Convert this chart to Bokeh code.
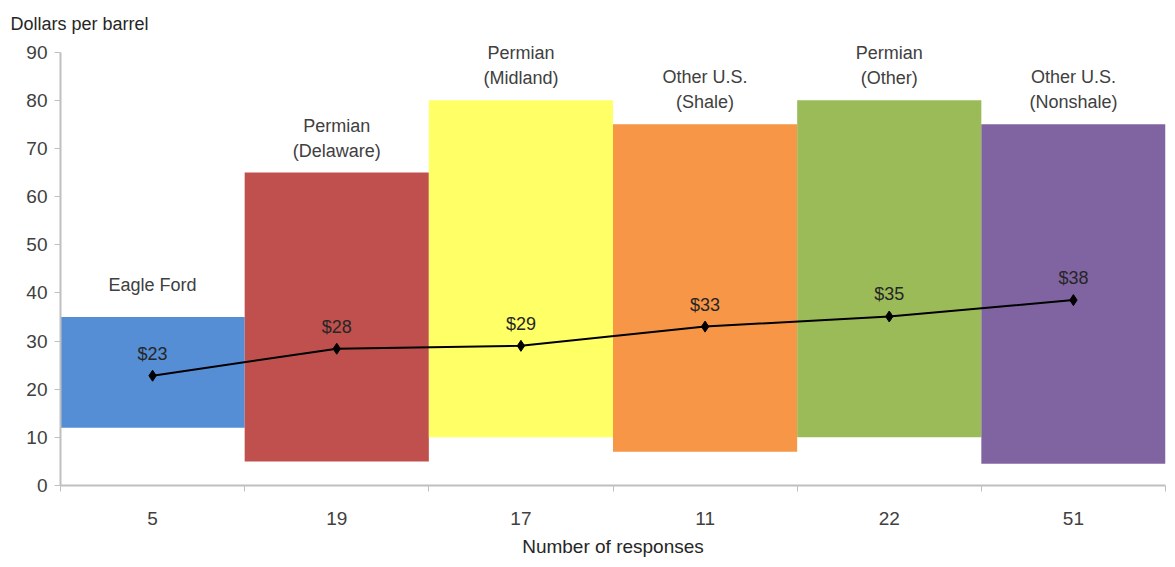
from bokeh.plotting import figure
from bokeh.models import ColumnDataSource, FixedTicker
from bokeh.core.properties import value
from bokeh.embed import file_html
from bokeh.resources import INLINE

categories = ["Eagle Ford", "Permian\n(Delaware)", "Permian\n(Midland)", "Other U.S.\n(Shale)", "Permian\n(Other)", "Other U.S.\n(Nonshale)"]
responses = ["5", "19", "17", "11", "22", "51"]
low = [12, 5, 10, 7, 10, 4.5]
high = [35, 65, 80, 75, 80, 75]
breakeven = [22.8, 28.4, 29.0, 33.0, 35.1, 38.5]
breakeven_labels = ["$23", "$28", "$29", "$33", "$35", "$38"]
colors = ["#558ED5", "#C0504D", "#FFFF66", "#F79646", "#9BBB59", "#8064A2"]

FONT = "Liberation Sans"
n = len(categories)
left = list(range(n))
right = [i + 1 for i in left]
mid = [i + 0.5 for i in left]
cat_offset = [-12 if "\n" in c else -22 for c in categories]

src = ColumnDataSource(dict(left=left, right=right, mid=mid, low=low, high=high,
                            be=breakeven, bel=breakeven_labels, cat=categories,
                            color=colors, coff=cat_offset))

p = figure(width=1175, height=567, x_range=(0, n), y_range=(0, 92),
           output_backend="svg", toolbar_location=None,
           min_border_left=60, min_border_right=10, min_border_top=42, min_border_bottom=82,
           title="Dollars per barrel")
p.title.align = "left"
p.title.offset = -50
p.title.standoff = 18
p.title.text_font = FONT
p.title.text_font_style = "normal"
p.title.text_font_size = "18px"
p.title.text_color = "#262626"

p.background_fill_color = "white"
p.border_fill_color = "white"
p.outline_line_color = None
p.xgrid.visible = False
p.ygrid.visible = False

p.quad(left="left", right="right", bottom="low", top="high", source=src,
       fill_color="color", line_color=None)

p.line(x="mid", y="be", source=src, line_color="black", line_width=2)
p.scatter(x="mid", y="be", source=src, marker="diamond", size=11,
          fill_color="black", line_color="black")

p.text(x="mid", y="be", text="bel", source=src, text_align="center",
       text_baseline="bottom", y_offset=-12, text_font=value(FONT),
       text_font_size="18px", text_color="#262626")

p.text(x="mid", y="high", text="cat", source=src, text_align="center",
       text_baseline="bottom", y_offset="coff", text_font=value(FONT),
       text_font_size="18px", text_color="#404040", text_line_height=1.25)

# axes
xa = p.xaxis[0]
xa.ticker = FixedTicker(ticks=mid, minor_ticks=list(range(n + 1)))
xa.major_label_overrides = {m: r for m, r in zip(mid, responses)}
xa.major_tick_out = 0
xa.major_tick_in = 0
xa.minor_tick_out = 6
xa.minor_tick_in = 0
xa.minor_tick_line_color = "#BFBFBF"
xa.axis_line_color = "#BFBFBF"
xa.axis_line_width = 2
xa.major_label_standoff = 20
xa.major_label_text_font = FONT
xa.major_label_text_font_size = "19px"
xa.major_label_text_color = "#404040"
xa.axis_label = "Number of responses"
xa.axis_label_text_font = FONT
xa.axis_label_text_font_style = "normal"
xa.axis_label_text_font_size = "19px"
xa.axis_label_text_color = "#262626"
xa.axis_label_standoff = 8

ya = p.yaxis[0]
ya.ticker = FixedTicker(ticks=list(range(0, 91, 10)))
ya.bounds = (0, 90)
ya.axis_line_color = "#BFBFBF"
ya.axis_line_width = 2
ya.major_tick_line_color = "#BFBFBF"
ya.major_tick_out = 6
ya.major_tick_in = 0
ya.minor_tick_line_color = None
ya.major_label_text_font = FONT
ya.major_label_text_font_size = "19px"
ya.major_label_text_color = "#404040"
ya.major_label_standoff = 7

open("out.html", "w").write(file_html(p, INLINE))
